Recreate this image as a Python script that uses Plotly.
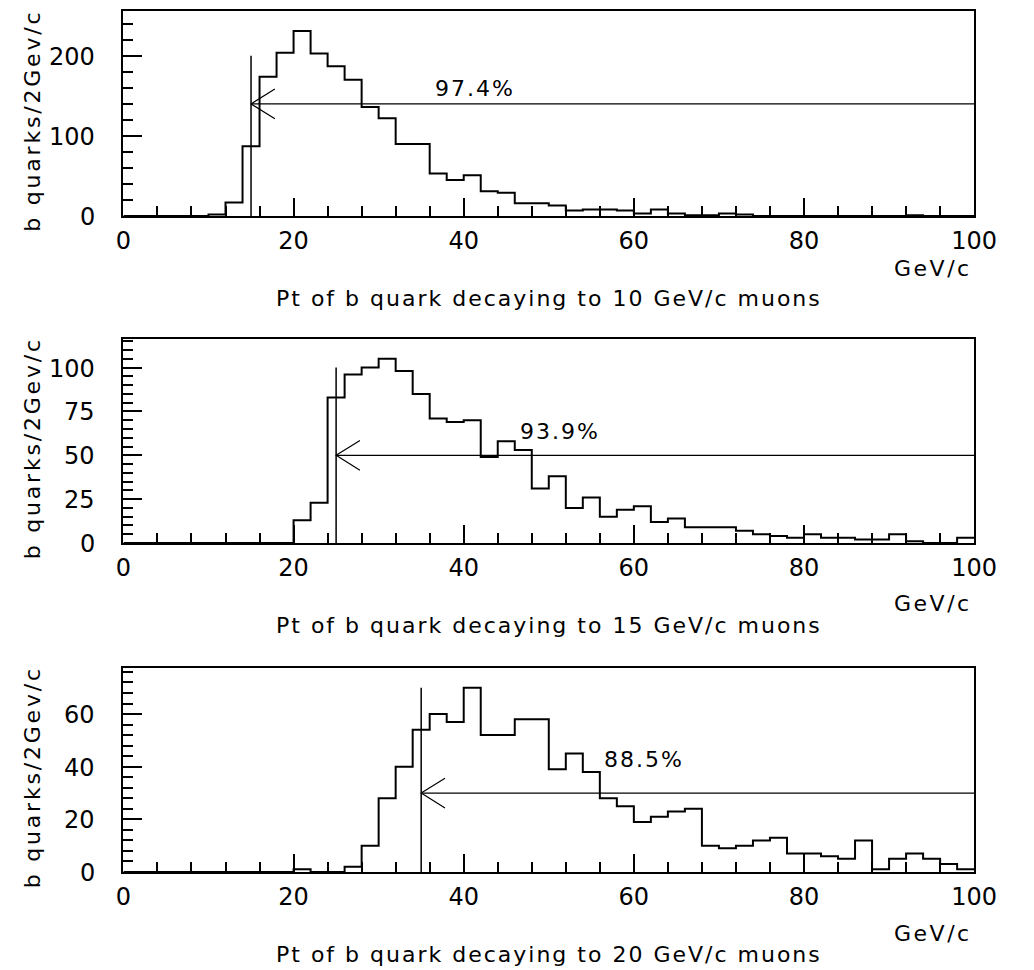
import plotly.graph_objects as go

# ---- data -------------------------------------------------------------
bin_edges = list(range(0, 102, 2))          # 2 GeV/c bins, 0..100

counts_mu10 = [0, 0, 0, 0, 0, 2, 17, 87, 174, 204,
               231, 203, 187, 170, 136, 122, 90, 90, 53, 45,
               51, 31, 29, 16, 16, 13, 7, 8, 8, 7,
               3, 8, 3, 1, 1, 3, 2, 0, 0, 0,
               0, 0, 0, 0, 0, 0, 1, 0, 0, 0]

counts_mu15 = [0, 0, 0, 0, 0, 0, 0, 0, 0, 0,
               13, 23, 83, 96, 100, 105, 98, 85, 71, 69,
               70, 49, 58, 53, 31, 38, 20, 26, 15, 19,
               21, 12, 14, 9, 9, 9, 7, 5, 4, 3,
               5, 3, 3, 2, 2, 5, 1, 0, 0, 3]

counts_mu20 = [0, 0, 0, 0, 0, 0, 0, 0, 0, 0,
               1, 0, 0, 2, 10, 28, 40, 54, 60, 57,
               70, 52, 52, 58, 58, 39, 45, 38, 28, 25,
               19, 21, 23, 24, 10, 9, 10, 12, 13, 7,
               7, 6, 5, 12, 1, 5, 7, 5, 3, 1]

muon_threshold = [10, 15, 20]             # GeV/c
cut_value = [15, 25, 35]                  # b-quark Pt cut, GeV/c
cut_marker_top = [200, 100, 70]
arrow_level = [140, 50, 30]
efficiency_text = ["97.4%", "93.9%", "88.5%"]
efficiency_pos = [(36.4, 159), (46.4, 63.5), (56.3, 42.6)]

all_counts = [counts_mu10, counts_mu15, counts_mu20]

# ---- layout constants (pixels) ----------------------------------------
W, H = 1034, 970
x_left, x_right = 119, 996
panel_top = [11, 339, 668]
panel_bottom = [216, 543, 872]
y_range_max = [256, 116.3, 77.5]
y_major = [100, 25, 20]
y_minor = [20, 5, 4]
unit_offset = [52, 60, 61]
ylabel_right = 92          # right edge of the y tick numbers

FONT = "DejaVu Sans"
INK = "black"


def px_x(p):
    return p / W


def px_y(p):
    return 1 - p / H


def spaced(s, ls):
    # widen the lettering a little, like the plotter font
    return f'<span style="letter-spacing:{ls}px">{s}</span>'


fig = go.Figure()
annotations = []

for i in range(3):
    ax = "" if i == 0 else str(i + 1)
    xr, yr = "x" + ax, "y" + ax
    counts = all_counts[i]

    # histogram outline
    fig.add_trace(go.Scatter(
        x=bin_edges, y=counts + [counts[-1]],
        mode="lines", line=dict(color=INK, width=2, shape="hv"),
        xaxis=xr, yaxis=yr, showlegend=False, hoverinfo="skip"))

    # vertical marker at the cut
    c = cut_value[i]
    fig.add_trace(go.Scatter(
        x=[c, c], y=[0, cut_marker_top[i]], mode="lines",
        line=dict(color=INK, width=1.5),
        xaxis=xr, yaxis=yr, showlegend=False, hoverinfo="skip"))

    # arrow pointing at the cut
    lvl = arrow_level[i]
    fig.add_trace(go.Scatter(
        x=[100, c], y=[lvl, lvl], mode="lines",
        line=dict(color=INK, width=1.2),
        xaxis=xr, yaxis=yr, showlegend=False, hoverinfo="skip"))
    dy = 0.073 * y_range_max[i]
    fig.add_trace(go.Scatter(
        x=[c + 2.8, c, c + 2.8], y=[lvl + dy, lvl, lvl - dy], mode="lines",
        line=dict(color=INK, width=1.2),
        xaxis=xr, yaxis=yr, showlegend=False, hoverinfo="skip"))

    top, bot = panel_top[i], panel_bottom[i]
    xa = dict(
        domain=[px_x(x_left), px_x(x_right)], range=[0, 100],
        anchor=yr, showline=True, linewidth=2, linecolor=INK, mirror=True,
        ticks="inside", ticklen=18, tickwidth=2, tickcolor=INK,
        tick0=0, dtick=20, showgrid=False, zeroline=False,
        tickfont=dict(family=FONT, size=24, color=INK),
        ticklabelstandoff=2,
        minor=dict(dtick=4, tick0=0, ticks="inside", ticklen=10,
                   tickwidth=2, tickcolor=INK, showgrid=False))
    ya = dict(
        domain=[px_y(bot), px_y(top)], range=[0, y_range_max[i]],
        anchor=xr, showline=True, linewidth=2, linecolor=INK, mirror=True,
        ticks="inside", ticklen=19, tickwidth=2, tickcolor=INK,
        tick0=0, dtick=y_major[i], showgrid=False, zeroline=False,
        showticklabels=False,
        minor=dict(dtick=y_minor[i], tick0=0, ticks="inside", ticklen=10,
                   tickwidth=2, tickcolor=INK, showgrid=False))
    fig.update_layout({"xaxis" + ax: xa, "yaxis" + ax: ya})

    # y tick numbers, set at the major tick values of this axis
    v = 0
    while v <= y_range_max[i]:
        annotations.append(dict(
            x=px_x(ylabel_right), y=v, xref="paper", yref=yr,
            text=str(v), showarrow=False, xanchor="right", yanchor="middle",
            yshift=-1, font=dict(family=FONT, size=24, color=INK)))
        v += y_major[i]

    # efficiency label
    ex, ey = efficiency_pos[i]
    annotations.append(dict(
        x=ex, y=ey, xref=xr, yref=yr, text=spaced(efficiency_text[i], 2),
        showarrow=False, xanchor="left", yanchor="middle",
        font=dict(family=FONT, size=22, color=INK)))

    # y title
    annotations.append(dict(
        x=px_x(25), y=px_y((top + bot) / 2 + 7), xref="paper", yref="paper",
        text=spaced("b quarks/2Gev/c", 2.8), textangle=-90, showarrow=False,
        xanchor="center", yanchor="middle",
        font=dict(family=FONT, size=22, color=INK)))

    # unit label
    annotations.append(dict(
        x=px_x(996), y=px_y(bot + unit_offset[i]), xref="paper", yref="paper",
        text=spaced("GeV/c", 2.5), showarrow=False, xanchor="right",
        yanchor="middle", font=dict(family=FONT, size=22, color=INK)))

    # x title
    annotations.append(dict(
        x=px_x(558), y=px_y(bot + 82), xref="paper", yref="paper",
        text=spaced(f"Pt of b quark decaying to {muon_threshold[i]} GeV/c muons", 2),
        showarrow=False, xanchor="center", yanchor="middle",
        font=dict(family=FONT, size=22, color=INK)))

fig.update_layout(
    width=W, height=H,
    margin=dict(l=0, r=0, t=0, b=0),
    paper_bgcolor="white", plot_bgcolor="white",
    showlegend=False,
    annotations=annotations,
    font=dict(family=FONT, color=INK),
)

fig.write_html("out.html")
